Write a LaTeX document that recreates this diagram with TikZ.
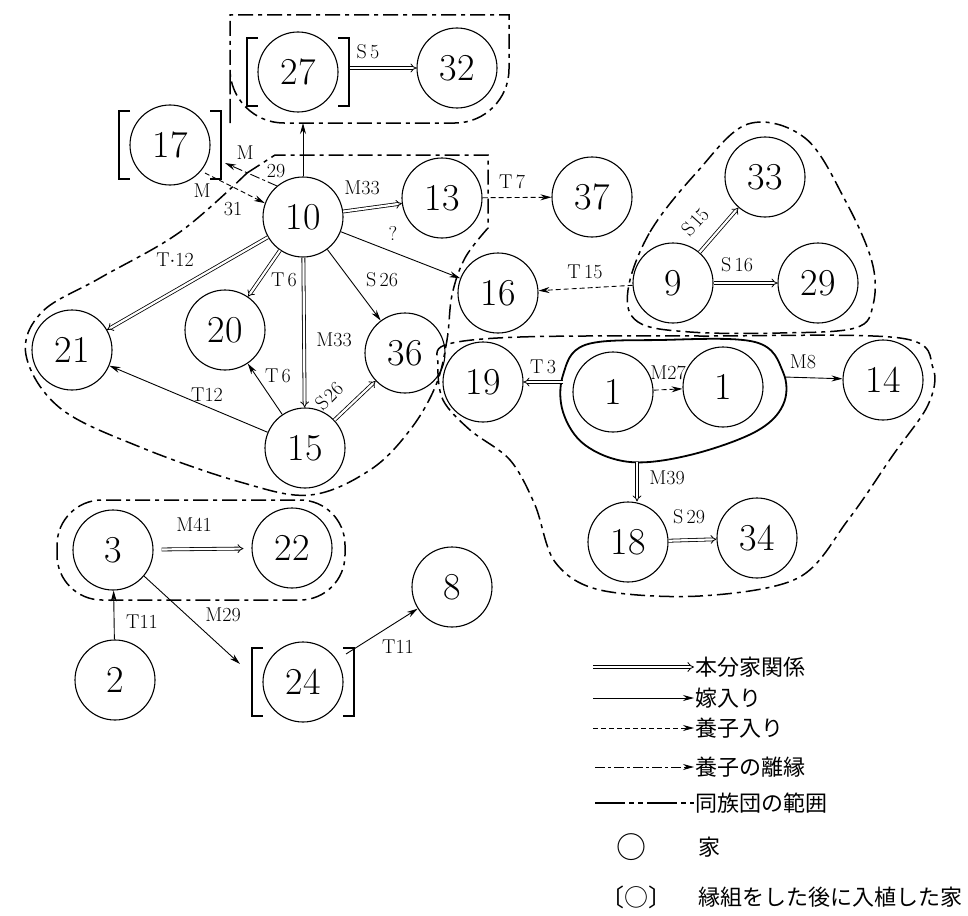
\documentclass[tikz,border=0pt]{standalone}
\usepackage{fontspec}
\newfontfamily\jp{Noto Sans CJK JP}
\usetikzlibrary{arrows.meta,calc}
\newcommand\housebrackets[1]{%
  \draw[brk] ([shift={(-40,-34)}]#1.center) -- ([shift={(-51,-34)}]#1.center) -- ([shift={(-51,34)}]#1.center) -- ([shift={(-40,34)}]#1.center);
  \draw[brk] ([shift={(40,-34)}]#1.center) -- ([shift={(51,-34)}]#1.center) -- ([shift={(51,34)}]#1.center) -- ([shift={(40,34)}]#1.center);}
\begin{document}
\begin{tikzpicture}[x=1pt,y=-1pt,
  house/.style={circle,draw,line width=1.1pt,minimum size=80pt,inner sep=0pt,font=\fontsize{38}{38}\selectfont},
  lab/.style={font=\fontsize{20}{20}\selectfont,inner sep=1pt},
  leg/.style={font=\jp\fontsize{22}{22}\selectfont,inner sep=1pt},
  dbl/.style={double,double distance=2.2pt,line width=0.8pt,-{Implies[scale=1.3]}},
  sgl/.style={line width=0.9pt,-{Stealth[length=11pt,width=6pt]}},
  adopt/.style={line width=0.9pt,dash pattern=on 5pt off 3pt,-{Stealth[length=11pt,width=6pt]}},
  divorce/.style={line width=0.9pt,dash pattern=on 10pt off 3pt on 3pt off 3pt,-{Stealth[length=11pt,width=6pt]}},
  grp/.style={line width=1.5pt,dash pattern=on 15pt off 5pt on 4pt off 5pt},
  brk/.style={line width=1.1pt}
]
\useasboundingbox (0,0) rectangle (968,915);

% houses
\node[house] (n27) at (298,72) {27};
\node[house] (n32) at (457,68) {32};
\node[house] (n17) at (170,145) {17};
\node[house] (n10) at (303,217) {10};
\node[house] (n13) at (442,198) {13};
\node[house] (n37) at (592,197) {37};
\node[house] (n33) at (765,177) {33};
\node[house] (n9) at (673,283) {9};
\node[house] (n29) at (818,283) {29};
\node[house] (n16) at (498,293) {16};
\node[house] (n21) at (72,350) {21};
\node[house] (n20) at (225,330) {20};
\node[house] (n36) at (405,353) {36};
\node[house] (n15) at (305,448) {15};
\node[house] (n19) at (483,382) {19};
\node[house] (n1a) at (613,392) {1};
\node[house] (n1b) at (723,387) {1};
\node[house] (n14) at (883,380) {14};
\node[house] (n18) at (628,542) {18};
\node[house] (n34) at (757,538) {34};
\node[house] (n3) at (113,550) {3};
\node[house] (n22) at (292,548) {22};
\node[house] (n8) at (452,587) {8};
\node[house] (n2) at (115,680) {2};
\node[house] (n24) at (303,682) {24};

\housebrackets{n27}
\housebrackets{n17}
\housebrackets{n24}

% groups
\draw[grp] (230,123) -- (230,15) -- (509,15) [rounded corners=54pt] -- (509,123) -- (230,123) [sharp corners] -- cycle;
\draw[grp] (247,173) -- (275,155) -- (488,155) -- (488,228) -- plot[smooth,tension=0.6] coordinates {(488,228) (465,258) (452,295) (447,340) (436,385) (410,430) (370,470) (310,495) (240,482) (140,447) (60,408) (26,355) (42,312) (100,278) (180,232) (247,173)};
\draw[grp] plot[smooth cycle,tension=0.6] coordinates {(628,290) (650,232) (697,172) (748,124) (805,138) (845,200) (872,262) (873,305) (855,328) (780,333) (690,332) (638,322)};
\draw[grp] plot[smooth cycle,tension=0.55] coordinates {(445,345) (520,337) (700,336) (900,338) (933,368) (928,405) (893,455) (848,520) (798,578) (700,596) (600,590) (555,562) (535,505) (510,460) (470,430) (443,400) (438,365)};
\draw[line width=1.8pt] plot[smooth cycle,tension=0.6] coordinates {(563,375) (585,345) (660,340) (755,342) (783,372) (783,405) (755,432) (690,455) (630,462) (585,445) (563,412)};
\draw[grp,rounded corners=45pt] (57,500) rectangle (345,600);

\coordinate (g27b) at (303,123);
\coordinate (i1L) at (563,382);
\coordinate (i1R) at (784,377);
\coordinate (i1B) at (637,462);

% edges
\draw[sgl] (n10) -- (g27b);
\draw[dbl] ([shift={(52,-4)}]n27.center) -- (n32);
\node[lab] at (368,52) {S\,5};
\draw[divorce] (n10.130) -- ([shift={(55,18)}]n17.center);
\node[lab] at (245,153) {M};
\node[lab] at (276,171) {29};
\draw[adopt] ([shift={(35,28)}]n17.center) -- (n10.160);
\node[lab] at (202,191) {M};
\node[lab] at (233,209) {31};
\draw[dbl] (n10) -- (n13);
\node[lab] at (362,188) {M33};
\draw[sgl] (n10) -- (n16);
\node[lab] at (393,233) {?};
\draw[dbl] (n10) -- (n21);
\node[lab] at (175,260) {T$\cdot$12};
\draw[dbl] (n10) -- (n20);
\node[lab] at (284,280) {T\,6};
\draw[dbl] (n10) -- (n15);
\node[lab] at (334,340) {M33};
\draw[sgl] (n10) -- (n36);
\node[lab] at (382,280) {S\,26};
\draw[sgl] (n15) -- (n20);
\node[lab] at (278,376) {T\,6};
\draw[sgl] (n15) -- (n21);
\node[lab] at (207,395) {T12};
\draw[dbl] (n15) -- (n36);
\node[lab,rotate=45] at (329,396) {S\kern2pt26};
\draw[adopt] (n13) -- (n37);
\node[lab] at (512,182) {T\,7};
\draw[adopt] (n9) -- (n16);
\node[lab] at (585,272) {T\,15};
\draw[dbl] (n9) -- (n33);
\node[lab,rotate=48] at (695,222) {S\kern2pt15};
\draw[dbl] (n9) -- (n29);
\node[lab] at (737,265) {S\,16};
\draw[dbl] (i1L) -- (n19);
\node[lab] at (543,367) {T\,3};
\draw[adopt] (n1a) -- (n1b);
\node[lab] at (668,373) {M27};
\draw[sgl] (i1R) -- (n14);
\node[lab] at (803,362) {M8};
\draw[dbl] (i1B) -- (i1B |- n18.north);
\node[lab] at (667,478) {M39};
\draw[dbl] (n18) -- (n34);
\node[lab] at (689,517) {S\,29};
\draw[dbl,shorten <=8pt,shorten >=8pt] (n3) -- (n22);
\node[lab] at (194,525) {M41};
\draw[sgl] (n2) -- (n3);
\node[lab] at (142,622) {T11};
\draw[sgl] (n3.-40) -- ([shift={(-63,-18)}]n24.center);
\node[lab] at (223,615) {M29};
\draw[sgl] ([shift={(43,-28)}]n24.center) -- (n8);
\node[lab] at (398,647) {T11};

% legend
\node[leg,anchor=west] (t1) at (694,667) {本分家関係};
\node[leg,anchor=west] (t2) at (694,698) {嫁入り};
\node[leg,anchor=west] (t3) at (694,728) {養子入り};
\node[leg,anchor=west] (t4) at (694,767) {養子の離縁};
\node[leg,anchor=west] (t5) at (694,803) {同族団の範囲};
\coordinate (s1) at (593,667);
\coordinate (s2) at (593,698);
\coordinate (s3) at (593,728);
\coordinate (s4) at (595,767);
\coordinate (s5) at (595,803);
\draw[dbl,double distance=2.6pt] (s1) -- (t1.west);
\draw[sgl] (s2) -- (t2.west);
\draw[adopt] (s3) -- (t3.west);
\draw[divorce] (s4) -- (t4.west);
\draw[line width=1.1pt,dash pattern=on 30pt off 4pt on 5pt off 4pt on 5pt off 4pt] (s5) -- (t5.west);
\node[font=\jp\fontsize{30}{30}\selectfont,inner sep=0pt] (k1) at (631,847) {○};
\node[leg,anchor=west] (t6) at (697,847) {家};
\node[font=\jp\fontsize{24}{24}\selectfont,inner sep=0pt] (k2) at (636,897) {〔○〕};
\node[leg,anchor=west] (t7) at (697,897) {縁組をした後に入植した家};
\end{tikzpicture}
\end{document}
